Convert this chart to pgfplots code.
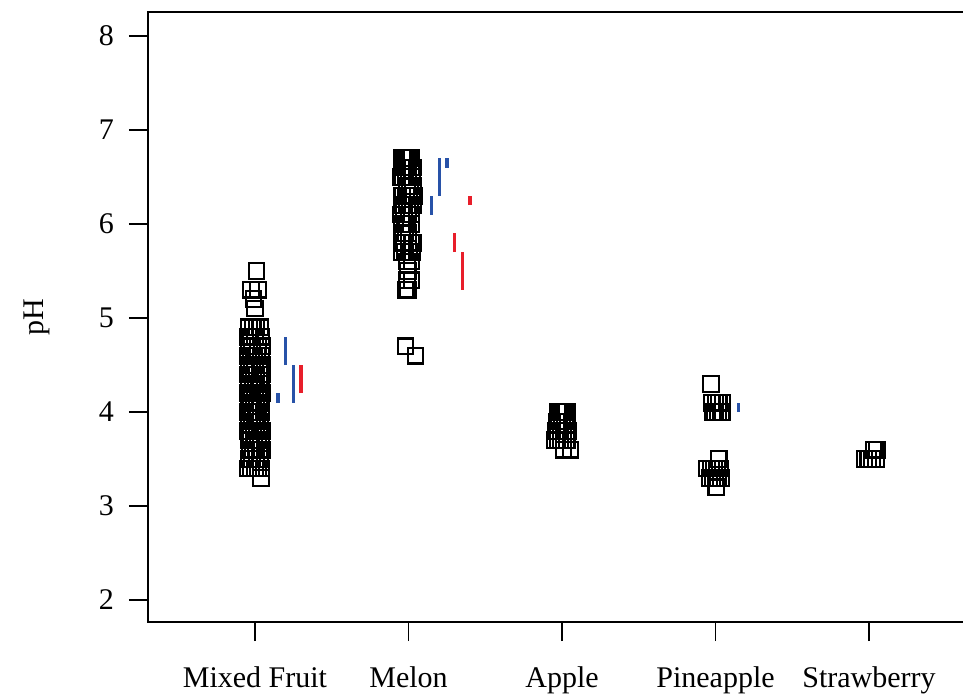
\documentclass[border=0pt]{standalone}
\usepackage{fontspec}
\setmainfont{Liberation Serif}
\usepackage{pgfplots}
\pgfplotsset{compat=1.18}
\definecolor{segblue}{RGB}{40,82,168}
\definecolor{segred}{RGB}{232,30,42}

\begin{document}
\begin{tikzpicture}
\begin{axis}[
  name=ax, at={(0,0)}, anchor=south west,
  scale only axis, width=407.5pt, height=305pt,
  xmin=0.303, xmax=5.612, ymin=1.766, ymax=8.255,
  axis line style={draw=none},
  tick align=outside, tick pos=left, major tick length=9.5pt,
  every tick/.style={black, line width=0.8pt},
  xtick={1,2,3,4,5},
  xticklabels={Mixed Fruit, Melon, Apple, Pineapple, Strawberry},
  ytick={2,3,4,5,6,7,8},
  ticklabel style={font=\fontsize{15}{18}\selectfont},
  xticklabel style={yshift=-9.5pt},
  yticklabel style={xshift=-4pt},
  /pgf/number format/assume math mode=true,
  unbounded coords=jump, clip=false,
]
% observations (jittered)
\addplot[only marks, mark=square, mark size=3.9pt, mark options={line width=1.1pt, black}] coordinates {
  % Mixed Fruit
  (1.01,5.5) (0.975,5.3) (1.02,5.3) (0.99,5.2) (1.0,5.1)
  (0.96,4.9) (0.985,4.9) (1.01,4.9) (1.035,4.9)
  (0.955,4.8) (0.97,4.8) (1.0,4.8) (1.04,4.8)
  (0.96,4.7) (0.98,4.7) (1.02,4.7) (1.045,4.7)
  (0.955,4.6) (0.975,4.6) (0.995,4.6) (1.015,4.6) (1.04,4.6)
  (0.96,4.5) (0.98,4.5) (1.0,4.5) (1.03,4.5) (1.045,4.5)
  (0.955,4.4) (0.97,4.4) (0.99,4.4) (1.01,4.4) (1.03,4.4) (1.045,4.4)
  (0.96,4.3) (0.985,4.3) (1.005,4.3) (1.025,4.3) (1.04,4.3)
  (0.955,4.2) (0.965,4.2) (0.98,4.2) (1.0,4.2) (1.02,4.2) (1.035,4.2) (1.045,4.2)
  (0.96,4.1) (0.975,4.1) (0.99,4.1) (1.01,4.1) (1.03,4.1) (1.04,4.1)
  (0.955,4.0) (0.97,4.0) (0.985,4.0) (1.005,4.0) (1.02,4.0) (1.04,4.0)
  (0.96,3.9) (0.98,3.9) (1.0,3.9) (1.015,3.9) (1.035,3.9)
  (0.955,3.8) (0.97,3.8) (0.99,3.8) (1.01,3.8) (1.03,3.8) (1.045,3.8)
  (0.96,3.7) (0.975,3.7) (0.995,3.7) (1.02,3.7) (1.04,3.7)
  (0.965,3.6) (0.985,3.6) (1.005,3.6) (1.03,3.6) (1.045,3.6)
  (0.96,3.5) (0.98,3.5) (1.01,3.5) (1.035,3.5)
  (0.955,3.4) (0.975,3.4) (1.0,3.4) (1.02,3.4) (1.04,3.4)
  (1.04,3.3)
  % Melon
  (1.96,6.7) (1.975,6.7) (1.99,6.7) (2.005,6.7) (2.02,6.7)
  (1.955,6.6) (1.97,6.6) (1.985,6.6) (2.0,6.6) (2.015,6.6) (2.03,6.6)
  (1.95,6.5) (1.965,6.5) (1.98,6.5) (2.0,6.5) (2.025,6.5)
  (1.99,6.4) (2.01,6.4) (2.03,6.4)
  (1.96,6.3) (1.985,6.3) (2.005,6.3) (2.025,6.3) (2.035,6.3)
  (1.955,6.2) (1.97,6.2) (1.99,6.2) (2.01,6.2) (2.03,6.2)
  (1.95,6.1) (1.97,6.1) (2.0,6.1) (2.02,6.1)
  (1.955,6.0) (1.975,6.0) (1.99,6.0) (2.015,6.0)
  (1.96,5.9) (1.98,5.9) (2.0,5.9)
  (1.955,5.8) (1.97,5.8) (2.0,5.8) (2.02,5.8) (2.03,5.8)
  (1.955,5.7) (1.975,5.7) (2.005,5.7) (2.025,5.7)
  (1.99,5.6) (2.02,5.6)
  (1.995,5.5) (1.99,5.4) (2.02,5.4) (1.98,5.3) (1.995,5.3)
  (1.98,4.7) (2.045,4.6)
  % Apple
  (2.97,4.0) (2.985,4.0) (3.0,4.0) (3.015,4.0) (3.03,4.0)
  (2.965,3.9) (2.98,3.9) (3.0,3.9) (3.02,3.9) (3.035,3.9)
  (2.96,3.8) (2.975,3.8) (2.99,3.8) (3.01,3.8) (3.025,3.8) (3.04,3.8)
  (2.955,3.7) (2.97,3.7) (2.99,3.7) (3.01,3.7) (3.03,3.7)
  (3.01,3.6) (3.055,3.6)
  % Pineapple
  (3.97,4.3)
  (3.975,4.1) (4.0,4.1) (4.02,4.1) (4.045,4.1)
  (3.98,4.0) (3.995,4.0) (4.015,4.0) (4.035,4.0) (4.045,4.0)
  (4.02,3.5)
  (3.945,3.4) (3.97,3.4) (3.99,3.4) (4.01,3.4) (4.03,3.4)
  (3.96,3.3) (3.98,3.3) (4.0,3.3) (4.015,3.3) (4.035,3.3)
  (4.005,3.2)
  % Strawberry
  (4.97,3.5) (4.995,3.5) (5.02,3.5) (5.045,3.5)
  (5.03,3.6) (5.05,3.6)
};
% blue intervals
\addplot[segblue, line width=1.7pt, no marks] coordinates {
  (1.15,4.1) (1.15,4.2) (1.15,nan)
  (1.2,4.5) (1.2,4.8) (1.2,nan)
  (1.25,4.1) (1.25,4.5) (1.25,nan)
  (2.15,6.1) (2.15,6.3) (2.15,nan)
  (2.2,6.3) (2.2,6.7) (2.2,nan)
  (2.25,6.6) (2.25,6.7) (2.25,nan)
  (4.15,4.0) (4.15,4.1)
};
% red intervals
\addplot[segred, line width=1.7pt, no marks] coordinates {
  (1.3,4.2) (1.3,4.5) (1.3,nan)
  (2.3,5.7) (2.3,5.9) (2.3,nan)
  (2.35,5.3) (2.35,5.7) (2.35,nan)
  (2.4,6.2) (2.4,6.3)
};
\end{axis}
\draw[line width=1pt] (ax.north east) -- (ax.north west) -- (ax.south west) -- (ax.south east);
\node[rotate=90, font=\fontsize{15}{18}\selectfont] at ([xshift=-55.5pt]ax.west) {pH};
\pgfresetboundingbox
\path[use as bounding box] ([xshift=-74pt,yshift=-36.5pt]ax.south west) rectangle ([yshift=6pt]ax.north east);
\end{tikzpicture}
\end{document}
